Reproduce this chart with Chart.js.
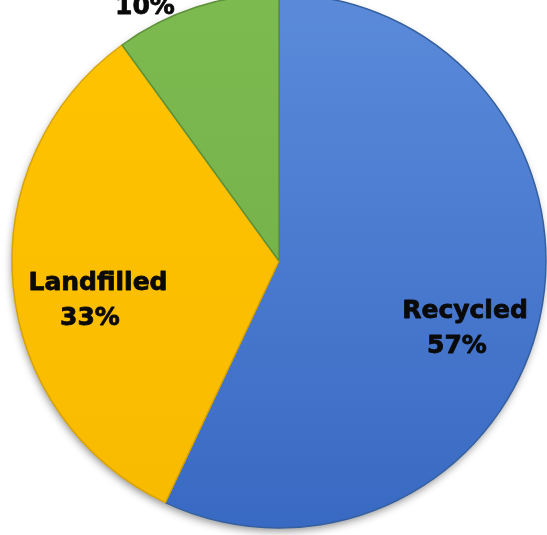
<!DOCTYPE html>
<html lang="en">
<head>
  <meta charset="UTF-8" />
  <title>Waste Outcome Shares</title>
  <script src="https://cdn.jsdelivr.net/npm/chart.js"></script>
  <style>
    html, body {
      margin: 0;
      width: 547px;
      height: 535px;
      overflow: hidden;
      background: #ffffff;
    }

    #wrap {
      position: relative;
      width: 547px;
      height: 535px;
    }

    /* pie centre sits at (279, 261); the canvas runs a bit past the top edge */
    #pie {
      position: absolute;
      left: -1px;
      top: -19px;
    }
  </style>
</head>
<body>

<div id="wrap">
  <canvas id="pie" width="560" height="560"></canvas>
</div>

<script>
  // data
  const categories = ['Recycled', 'Landfilled', 'Incinerated'];
  const shares = [57, 33, 10];

  // colours: [top of gradient, bottom of gradient, edge]
  const sliceTop = ['#5c8bdb', '#ffc400', '#7dba50'];
  const sliceBottom = ['#3869c2', '#f8ba00', '#70ac45'];
  const sliceEdge = ['#35609f', '#d9a400', '#5e9138'];

  // label anchor offsets from the pie centre (first line baseline)
  const labelOffset = [[186, 57], [-181, 29], [-126, -282]];

  function sliceFill(context) {
    const i = context.dataIndex;
    const area = context.chart.chartArea;
    if (!area) return sliceTop[i];
    const g = context.chart.ctx.createLinearGradient(0, area.top, 0, area.bottom);
    g.addColorStop(0, sliceTop[i]);
    g.addColorStop(1, sliceBottom[i]);
    return g;
  }

  // soft drop shadow under the whole disc
  const discShadow = {
    id: 'discShadow',
    beforeDatasetsDraw(chart) {
      const arc = chart.getDatasetMeta(0).data[0];
      if (!arc) return;
      const ctx = chart.ctx;
      ctx.save();
      ctx.shadowColor = 'rgba(0,0,0,0.45)';
      ctx.shadowBlur = 9;
      ctx.shadowOffsetX = -1;
      ctx.shadowOffsetY = 4;
      ctx.beginPath();
      ctx.arc(arc.x, arc.y, arc.outerRadius - 1, 0, Math.PI * 2);
      ctx.fillStyle = '#4a6fb8';
      ctx.fill();
      ctx.restore();
    }
  };

  // two-line labels: name, then share
  const sliceLabels = {
    id: 'sliceLabels',
    afterDatasetsDraw(chart) {
      const meta = chart.getDatasetMeta(0);
      const ctx = chart.ctx;
      ctx.save();
      ctx.font = 'bold 25px "DejaVu Sans", Verdana, sans-serif';
      ctx.fillStyle = '#0a0a0a';
      ctx.strokeStyle = '#0a0a0a';
      ctx.lineWidth = 0.8;
      ctx.lineJoin = 'round';
      ctx.textAlign = 'center';
      ctx.textBaseline = 'alphabetic';
      meta.data.forEach((arc, i) => {
        const x = arc.x + labelOffset[i][0];
        const y = arc.y + labelOffset[i][1];
        const pct = shares[i] + '%';
        ctx.fillText(categories[i], x, y);
        ctx.strokeText(categories[i], x, y);
        ctx.fillText(pct, x - 8, y + 35);
        ctx.strokeText(pct, x - 8, y + 35);
      });
      ctx.restore();
    }
  };

  new Chart(document.getElementById('pie'), {
    type: 'pie',
    data: {
      labels: categories,
      datasets: [{
        data: shares,
        backgroundColor: sliceFill,
        borderColor: sliceEdge,
        borderWidth: 1.5
      }]
    },
    options: {
      responsive: false,
      animation: false,
      radius: 267,
      layout: { padding: 0 },
      plugins: {
        legend: { display: false },
        tooltip: { enabled: false }
      }
    },
    plugins: [discShadow, sliceLabels]
  });
</script>

</body>
</html>
